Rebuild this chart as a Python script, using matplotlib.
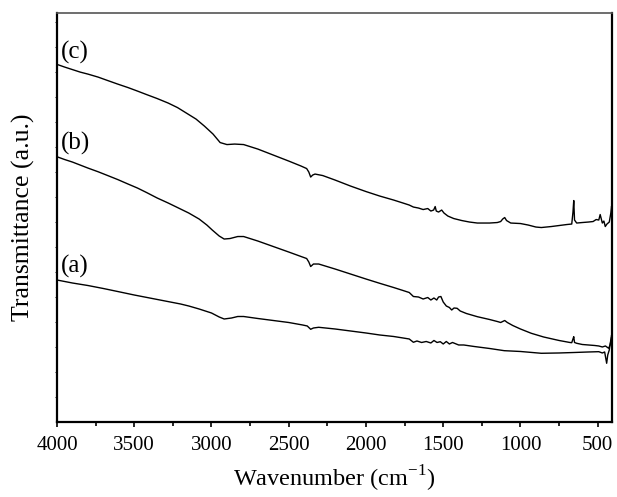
import numpy as np
from matplotlib import pyplot as plt

plt.rcParams['font.family'] = ['Liberation Serif', 'DejaVu Serif']

# curve (c)
c_wn = [4000, 3950, 3900, 3850, 3800, 3734, 3680, 3607, 3540, 3479, 3420, 3351, 3280, 3220, 3173,
        3100, 3046, 2990, 2944, 2900, 2850, 2792, 2700, 2600, 2500, 2420, 2384, 2370, 2358, 2345,
        2330, 2280, 2200, 2100, 2000, 1911, 1821, 1760, 1720, 1693, 1660, 1630, 1600, 1580, 1562,
        1552, 1545, 1530, 1510, 1495, 1470, 1432, 1380, 1330, 1279, 1200, 1150, 1128, 1115, 1102,
        1090, 1063, 1000, 950, 900, 865, 800, 750, 700, 668, 660, 655, 650, 636, 600, 560, 530,
        510, 493, 484, 470, 460, 451, 440, 425, 415, 410, 405]
c_val = [357.7, 355, 352.5, 350, 348, 345, 342, 338, 334.5, 331, 327.5, 323.5, 319, 314.5, 310,
         303, 296, 288, 279.5, 277.5, 278, 277.5, 273, 267, 261, 256, 253.5, 250, 245, 247,
         248, 246.5, 242, 236, 230.5, 226, 222, 219, 217, 215, 214, 212.5, 213.5, 211, 212,
         215.5, 211, 210, 212, 209, 206, 203.5, 201.5, 200, 199, 199, 199.5, 200.5, 203, 204.5,
         201.5, 199, 198.5, 197, 195, 194.5, 195.5, 196.5, 197.5, 198, 210, 221.5, 202, 199, 199.5, 200, 200.5,
         202.5, 202, 207.5, 199, 201, 195.5, 198, 200, 209, 216, 202]

# curve (b)
b_wn = [4000, 3950, 3900, 3850, 3800, 3734, 3680, 3607, 3540, 3479, 3420, 3351, 3280, 3220, 3147,
        3080, 3030, 2995, 2950, 2918, 2880, 2830, 2792, 2700, 2600, 2500, 2420, 2384, 2370, 2358,
        2340, 2306, 2200, 2100, 2000, 1911, 1821, 1760, 1720, 1693, 1660, 1630, 1600, 1580, 1560,
        1542, 1530, 1515, 1500, 1480, 1460, 1445, 1430, 1410, 1390, 1350, 1279, 1200, 1150, 1128,
        1102, 1085, 1050, 1000, 930, 850, 750, 680, 668, 660, 655, 650, 636, 600, 560, 520, 493,
        470, 450, 429, 420, 413, 410, 405]
b_val = [265.3, 262.5, 260, 257, 254, 250.3, 247, 242.5, 238, 234, 229.5, 224, 219, 214.5, 209,
         203, 197, 192, 186, 183, 183.5, 185.5, 185.5, 181, 175.5, 170, 165.5, 163.5, 160, 155.5,
         158, 158, 153, 148, 143, 138.7, 134.5, 131.5, 129.5, 125.5, 125, 123, 124.5, 122, 124,
         122, 125, 125.5, 120, 116, 114.5, 112, 114, 113.7, 111, 108.5, 105.3, 102.5, 100.5, 99.5,
         101.5, 99.5, 96.5, 93, 88.7, 85, 81.5, 79.5, 79.3, 83, 85.3, 79.5, 78.7, 77.5, 77, 76.5, 76,
         75, 76, 73.7, 77, 82, 87, 72]

# curve (a)
a_wn = [4000, 3900, 3800, 3700, 3607, 3500, 3400, 3300, 3200, 3147, 3080, 3000, 2950, 2918, 2870,
        2830, 2792, 2700, 2600, 2500, 2410, 2380, 2358, 2340, 2306, 2200, 2100, 2000, 1911, 1821,
        1760, 1720, 1693, 1670, 1640, 1610, 1580, 1560, 1540, 1519, 1500, 1480, 1460, 1440, 1400,
        1367, 1300, 1200, 1105, 1000, 865, 750, 650, 560, 493, 470, 455, 442, 435, 425, 415, 410, 405]
a_val = [142, 139, 136.5, 133.5, 130.5, 127, 124, 121, 118, 116, 113, 109, 105, 103, 104,
         105.5, 105.5, 103.5, 101.5, 99.5, 97, 96, 92.7, 94, 94.7, 93, 91, 89, 87, 85.5,
         84, 83, 79.7, 81, 79.5, 80.5, 79, 81.5, 79.5, 80.3, 78, 80.5, 78, 79.5, 77,
         77, 75.5, 73.5, 71.3, 70.5, 68.7, 69, 69.5, 70, 70.3, 69, 70, 58.7, 67, 72, 82, 85.3, 70]

labels = ["(a)", "(b)", "(c)"]
label_y = [156, 279, 370]

fig = plt.figure(figsize=(6.17, 4.97), dpi=100)
ax = fig.add_axes([0.0924, 0.151, 0.8996, 0.822])

ax.plot(a_wn, a_val, color='black', linewidth=1)
ax.plot(b_wn, b_val, color='black', linewidth=1)
ax.plot(c_wn, c_val, color='black', linewidth=1)

for lab, yy in zip(labels, label_y):
    ax.text(3975, yy, lab, fontsize=18, ha='left', va='center')

ax.set_xlim(4000, 407)
ax.set_ylim(0, 408.7)
ax.set_xticks([4000, 3500, 3000, 2500, 2000, 1500, 1000, 500])
ax.set_xticks(np.arange(3750, 400, -500), minor=True)
ax.set_yticks(np.arange(25, 408, 25))
ax.set_yticklabels([])
ax.tick_params(axis='x', which='major', direction='out', length=3.6, width=1.2, labelsize=15, pad=6.5)
ax.tick_params(axis='x', which='minor', direction='out', length=3, width=1.2)
ax.tick_params(axis='y', direction='out', length=1.5, width=0.6)

ax.set_xlabel("Wavenumber (cm$^{\\mathregular{-1}}$)", fontsize=17.5, labelpad=6)
ax.set_ylabel("Transmittance (a.u.)", fontsize=18.5, labelpad=10.5)

for s in ['left', 'bottom', 'right']:
    ax.spines[s].set_linewidth(1.6)
ax.spines['top'].set_linewidth(1.2)
ax.spines['top'].set_color('#555555')

plt.savefig('out.png', dpi=100)
